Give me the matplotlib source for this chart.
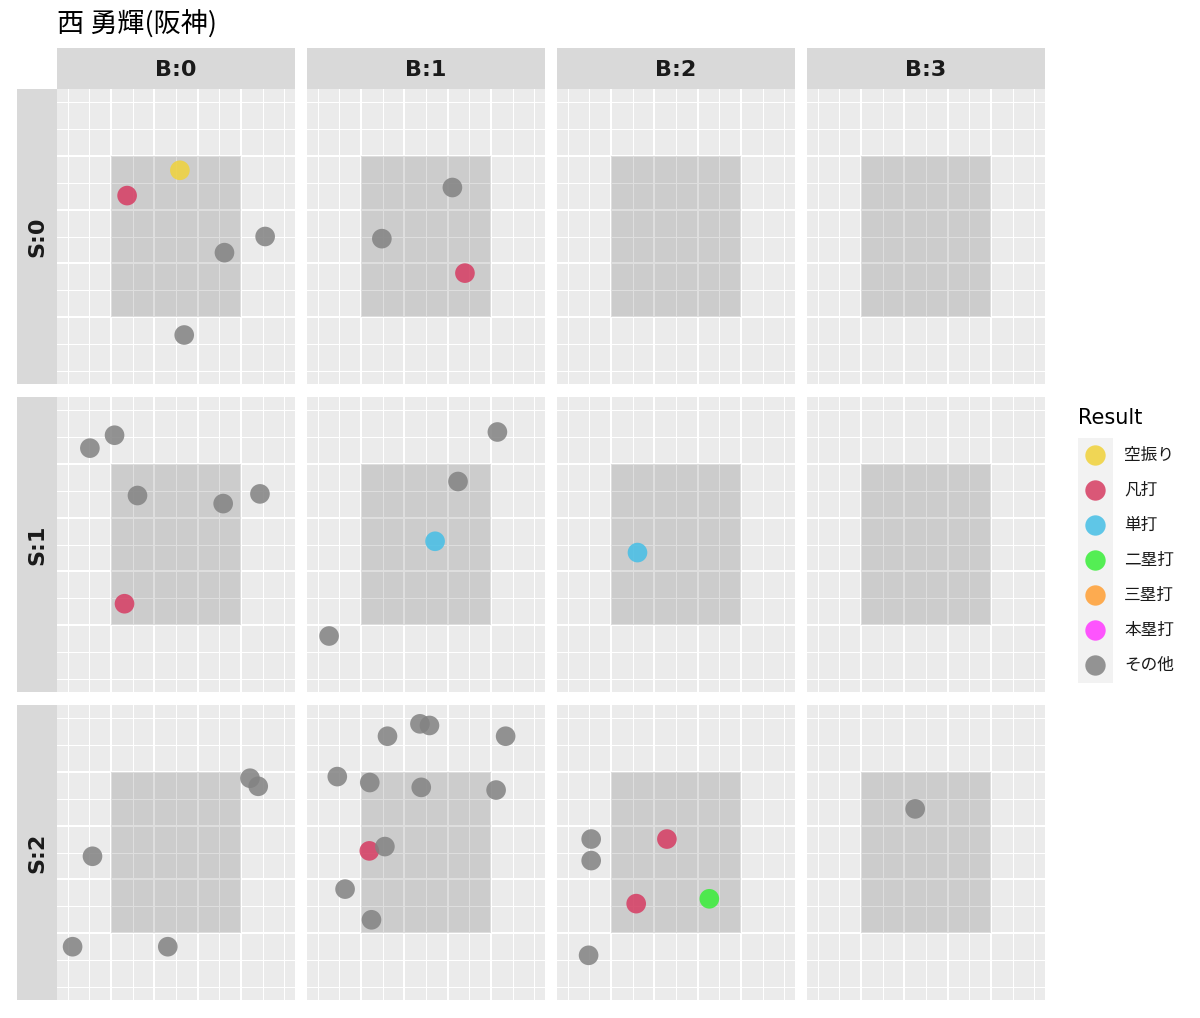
import matplotlib
matplotlib.use('Agg')
import matplotlib.pyplot as plt
from matplotlib.patches import Rectangle

# Datos del grafico
titulo = '西 勇輝(阪神)'
balls = ['B:0', 'B:1', 'B:2', 'B:3']
strikes = ['S:0', 'S:1', 'S:2']
resultados = ['空振り', '凡打', '単打', '二塁打', '三塁打', '本塁打', 'その他']
colores = ['#F0D23A', '#D63C62', '#45BFE6', '#38EE38', '#FF9F33', '#FF38FF', '#828282']

# cada lanzamiento: cuenta de strikes, cuenta de bolas, resultado, posicion x / y
cuenta_s = [0, 0, 0, 0, 0,
            0, 0, 0,
            1, 1, 1, 1, 1, 1,
            1, 1, 1, 1,
            1,
            2, 2, 2, 2, 2,
            2, 2, 2, 2, 2, 2, 2, 2, 2, 2, 2, 2,
            2, 2, 2, 2, 2, 2,
            2]
cuenta_b = [0, 0, 0, 0, 0,
            1, 1, 1,
            0, 0, 0, 0, 0, 0,
            1, 1, 1, 1,
            2,
            0, 0, 0, 0, 0,
            1, 1, 1, 1, 1, 1, 1, 1, 1, 1, 1, 1,
            2, 2, 2, 2, 2, 2,
            3]
resultado = ['空振り', '凡打', 'その他', 'その他', 'その他',
             'その他', 'その他', '凡打',
             'その他', 'その他', 'その他', 'その他', 'その他', '凡打',
             'その他', 'その他', '単打', 'その他',
             '単打',
             'その他', 'その他', 'その他', 'その他', 'その他',
             'その他', 'その他', 'その他', 'その他', 'その他', 'その他',
             'その他', 'その他', 'その他', '凡打', 'その他', 'その他',
             'その他', 'その他', '凡打', '凡打', '二塁打', 'その他',
             'その他']
loc_x = [0.09, -1.13, 2.06, 1.12, 0.19,
         0.61, -1.02, 0.90,
         -1.99, -1.42, -0.89, 1.09, 1.94, -1.19,
         1.65, 0.74, 0.21, -2.24,
         -0.89,
         1.71, 1.90, -1.93, -2.39, -0.19,
         -0.14, 0.08, -0.89, 1.84, -2.05, -1.30, -0.11, 1.62, -0.95, -1.31, -1.87, -1.26,
         -1.96, -1.96, -0.21, -0.92, 0.77, -2.02,
         -0.25]
loc_y = [1.23, 0.76, 0.00, -0.30, -1.83,
         0.91, -0.04, -0.68,
         1.79, 2.03, 0.91, 0.76, 0.94, -1.10,
         2.09, 1.17, 0.06, -1.70,
         -0.15,
         1.38, 1.23, -0.07, -1.75, -1.75,
         2.39, 2.36, 2.16, 2.16, 1.41, 1.30, 1.21, 1.16, 0.11, 0.03, -0.68, -1.25,
         0.25, -0.15, 0.25, -0.95, -0.86, -1.91,
         0.81]

zona = (-1.5, 1.5, -1.5, 1.5)
mayores = [-1.5, -0.5, 0.5, 1.5]
menores = [-2.5, -2.0, -1.0, 0.0, 1.0, 2.0, 2.5]

W, H = 1200, 1018


def caja(x0, y0, w, h):
    return [x0 / W, 1 - (y0 + h) / H, w / W, h / H]


fig = plt.figure(figsize=(W / 100, H / 100), dpi=100)
fig.patch.set_facecolor('white')

fuente_jp = ['Noto Sans CJK JP', 'DejaVu Sans']

for r, s_lab in enumerate(strikes):
    for c, b_lab in enumerate(balls):
        ax = fig.add_axes(caja(57 + 250 * c, 89 + 308 * r, 238, 295))
        ax.set_facecolor('#EBEBEB')
        ax.set_xlim(-2.75, 2.75)
        ax.set_ylim(-2.74, 2.74)
        for v in menores:
            ax.axvline(v, color='white', lw=0.75, zorder=1)
            ax.axhline(v, color='white', lw=0.75, zorder=1)
        for v in mayores:
            ax.axvline(v, color='white', lw=1.5, zorder=1)
            ax.axhline(v, color='white', lw=1.5, zorder=1)
        ax.add_patch(Rectangle((zona[0], zona[2]), zona[1] - zona[0], zona[3] - zona[2],
                               facecolor='black', alpha=0.13, lw=0, zorder=2))
        for res, col in zip(resultados, colores):
            xs = [x for x, s, b, rr in zip(loc_x, cuenta_s, cuenta_b, resultado)
                  if s == r and b == c and rr == res]
            ys = [y for y, s, b, rr in zip(loc_y, cuenta_s, cuenta_b, resultado)
                  if s == r and b == c and rr == res]
            if xs:
                ax.scatter(xs, ys, s=200, color=col, alpha=0.85, edgecolors='none', zorder=3)
        ax.set_xticks([])
        ax.set_yticks([])
        for sp in ax.spines.values():
            sp.set_visible(False)

        # tiras de faceta
        if r == 0:
            st = fig.add_axes(caja(57 + 250 * c, 48, 238, 41))
            st.set_facecolor('#D9D9D9')
            st.set_xticks([])
            st.set_yticks([])
            for sp in st.spines.values():
                sp.set_visible(False)
            st.text(0.5, 0.47, b_lab, ha='center', va='center', fontsize=16,
                    fontweight='bold', color='#1A1A1A', transform=st.transAxes)
    st = fig.add_axes(caja(17, 89 + 308 * r, 40, 295))
    st.set_facecolor('#D9D9D9')
    st.set_xticks([])
    st.set_yticks([])
    for sp in st.spines.values():
        sp.set_visible(False)
    st.text(0.5, 0.5, s_lab, ha='center', va='center', fontsize=16, rotation=90,
            fontweight='bold', color='#1A1A1A', transform=st.transAxes)

# titulo
fig.text(57 / W, 1 - 25 / H, titulo, ha='left', va='center', fontsize=19.5,
         family=fuente_jp, color='black')

# leyenda
fig.text(1078 / W, 1 - 418 / H, 'Result', ha='left', va='center', fontsize=15,
         color='black')
leg = fig.add_axes(caja(1078, 438, 35, 245))
leg.set_facecolor('#F2F2F2')
leg.set_xlim(0, 1)
leg.set_ylim(len(resultados), 0)
leg.set_xticks([])
leg.set_yticks([])
for sp in leg.spines.values():
    sp.set_visible(False)
for i, (res, col) in enumerate(zip(resultados, colores)):
    leg.scatter([0.5], [i + 0.5], s=215, color=col, alpha=0.85, edgecolors='none')
    leg.text(1.32, i + 0.5, res, ha='left', va='center', fontsize=12,
             family=fuente_jp, color='#1A1A1A', clip_on=False)

fig.savefig('out.png', dpi=100)
